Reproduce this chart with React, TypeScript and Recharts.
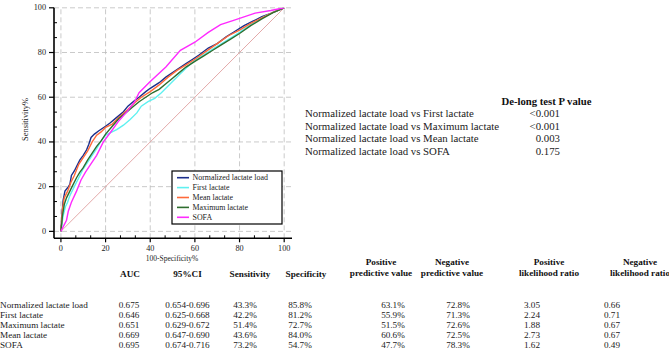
import React from 'react';
import { LineChart, Line, XAxis, YAxis, ReferenceLine } from 'recharts';

// ROC curves: [100-Specificity%, Sensitivity%]
const normalizedLoad: number[][] = [
  [0, 0], [0.5, 8], [1, 14], [1.8, 18], [3, 19.5], [4, 21], [4.7, 25], [6, 27], [7, 29], [8.5, 32],
  [10, 34], [11.5, 36.5], [12.5, 39], [13.5, 42], [15, 43.5], [17, 45], [20, 47], [22, 48.5], [25, 51],
  [28, 53.5], [30, 56], [33, 58.5], [35, 60], [38, 62.5], [40, 64], [44, 66.5], [47, 69], [50, 71],
  [53, 73], [56, 75], [59, 77], [62, 79], [66, 82], [70, 84], [74, 87], [78, 89.5], [82, 92], [86, 94],
  [90, 96], [94, 97.5], [97, 98.8], [100, 100],
];
const firstLactate: number[][] = [
  [0, 0], [1, 7], [2, 11], [3, 13], [4, 16], [5, 18], [6.5, 21], [8, 24], [10, 28], [12, 31], [14, 34],
  [16, 37], [18, 40.5], [20, 43], [22, 44], [25, 45.5], [28, 47.5], [31, 50], [34, 53], [36, 56],
  [39, 58], [42, 59.5], [45, 62], [48, 65], [50, 67], [53, 70], [56, 73], [60, 76.5], [64, 79],
  [68, 81.5], [72, 84], [76, 86.5], [80, 89], [85, 92.5], [90, 95.5], [95, 98], [100, 100],
];
const meanLactate: number[][] = [
  [0, 0], [0.7, 10], [1.5, 15], [3, 18], [4.5, 22], [6, 25], [8, 30], [10, 33], [12, 36], [14, 40],
  [16, 43], [18, 44.5], [20, 46.5], [23, 48], [26, 51], [30, 54.5], [33, 57.5], [36, 60], [40, 62.5],
  [44, 65.5], [48, 69], [52, 72], [56, 74.5], [60, 77], [65, 80.5], [70, 84], [75, 87.5], [80, 90],
  [85, 93], [90, 95.5], [95, 98], [100, 100],
];
const maximumLactate: number[][] = [
  [0, 0], [0.7, 7], [1.5, 12], [2.5, 15], [4, 18], [5.5, 21], [7, 24], [8.5, 26.5], [10, 28.5], [12, 32],
  [14, 35], [16, 38], [18, 40.5], [20, 43.5], [23, 47], [26, 50.5], [29, 53], [32, 55.5], [35, 58],
  [38, 60], [41, 62], [44, 63.5], [47, 66], [50, 68.5], [53, 71], [56, 73.5], [60, 76], [64, 78.5],
  [68, 81], [72, 83.5], [76, 86], [80, 88.5], [85, 92], [90, 95], [95, 97.8], [100, 100],
];
const sofa: number[][] = [
  [0, 0], [1, 2], [2.5, 5], [3.3, 9], [4.7, 13], [7, 18], [9, 23], [11, 26.5], [13, 29.5], [16, 34],
  [19, 40], [22, 44], [26, 49.5], [30, 54], [33, 58], [35, 62], [40, 67], [47, 73.5], [53.5, 81],
  [60, 84.6], [66, 89], [71.5, 92.5], [77, 94.3], [87, 97.6], [94, 98.8], [100, 100],
];

const seriesNames = ['Normalized lactate load', 'First lactate', 'Mean lactate', 'Maximum lactate', 'SOFA'];
const seriesColors = ['#1c2f8c', '#5ff0f0', '#ff6a3a', '#2f6e2f', '#ff2bff'];
const seriesData = [normalizedLoad, firstLactate, meanLactate, maximumLactate, sofa];

const majorTicks = [0, 20, 40, 60, 80, 100];
const minorTicks = [6.67, 13.33, 26.67, 33.33, 46.67, 53.33, 66.67, 73.33, 86.67, 93.33];
const allTicks = [...majorTicks, ...minorTicks].sort((a, b) => a - b);

// De-long comparisons
const comparisons = [
  'Normalized lactate load vs First lactate',
  'Normalized lactate load vs Maximum lactate',
  'Normalized lactate load vs Mean lactate',
  'Normalized lactate load vs SOFA',
];
const pValues = ['<0.001', '<0.001', '0.003', '0.175'];

// Bottom table
const rowLabels = ['Normalized lactate load', 'First lactate', 'Maximum lactate', 'Mean lactate', 'SOFA'];
const aucValues = ['0.675', '0.646', '0.651', '0.669', '0.695'];
const ciValues = ['0.654-0.696', '0.625-0.668', '0.629-0.672', '0.647-0.690', '0.674-0.716'];
const sensValues = ['43.3%', '42.2%', '51.4%', '43.6%', '73.2%'];
const specValues = ['85.8%', '81.2%', '72.7%', '84.0%', '54.7%'];
const ppvValues = ['63.1%', '55.9%', '51.5%', '60.6%', '47.7%'];
const npvValues = ['72.8%', '71.3%', '72.6%', '72.5%', '78.3%'];
const plrValues = ['3.05', '2.24', '1.88', '2.73', '1.62'];
const nlrValues = ['0.66', '0.71', '0.67', '0.67', '0.49'];

const FONT = '"Liberation Serif", "Times New Roman", serif';

const isMajor = (v: number) => Math.abs(v % 20) < 0.01;

const XTick = (props: any) => {
  const { x, y, payload } = props;
  const v = payload.value;
  if (isMajor(v)) {
    return (
      <g>
        <line x1={x} y1={y} x2={x} y2={y + 4} stroke="#000" strokeWidth={1.2} />
        <text x={x} y={y + 10} textAnchor="middle" dominantBaseline="central" fontSize={8.2} fontFamily={FONT} fill="#222">
          {v}
        </text>
      </g>
    );
  }
  return <line x1={x} y1={y} x2={x} y2={y - 3} stroke="#000" strokeWidth={1} />;
};

const YTick = (props: any) => {
  const { x, y, payload } = props;
  const v = payload.value;
  if (isMajor(v)) {
    return (
      <g>
        <line x1={x - 5} y1={y} x2={x} y2={y} stroke="#000" strokeWidth={1.2} />
        <text x={x - 8} y={y} textAnchor="end" dominantBaseline="central" fontSize={8.2} fontFamily={FONT} fill="#222">
          {v}
        </text>
      </g>
    );
  }
  return <line x1={x} y1={y} x2={x + 3} y2={y} stroke="#000" strokeWidth={1} />;
};

const tableCols = [
  { vals: aucValues, cx: 129 },
  { vals: ciValues, cx: 187.5 },
  { vals: sensValues, cx: 245 },
  { vals: specValues, cx: 300 },
  { vals: ppvValues, cx: 393 },
  { vals: npvValues, cx: 458 },
  { vals: plrValues, cx: 532 },
  { vals: nlrValues, cx: 612 },
];
const singleHeaders = [
  { t: 'AUC', cx: 130 },
  { t: '95%CI', cx: 187.5 },
  { t: 'Sensitivity', cx: 250 },
  { t: 'Specificity', cx: 306 },
];
const doubleHeaders = [
  { a: 'Positive', b: 'predictive value', cx: 381 },
  { a: 'Negative', b: 'predictive value', cx: 452 },
  { a: 'Positive', b: 'likelihood ratio', cx: 549 },
  { a: 'Negative', b: 'likelihood ratio', cx: 640 },
];

export default function App() {
  const rowY = [305, 315, 325, 335, 345];
  return (
    <div style={{ position: 'absolute', left: 0, top: 0, width: 669, height: 356, background: '#fff', overflow: 'hidden' }}>
      <LineChart width={669} height={356} margin={{ top: 7.8, right: 377, bottom: 97.7, left: 0 }}>
        <XAxis
          type="number"
          dataKey="x"
          domain={[-3.1, 103.5]}
          ticks={allTicks}
          interval={0}
          tick={<XTick />}
          tickLine={false}
          tickSize={0}
          tickMargin={0}
          height={20}
          axisLine={{ stroke: '#000', strokeWidth: 1.6 }}
          allowDataOverflow
        />
        <YAxis
          type="number"
          dataKey="y"
          domain={[-3.1, 100]}
          ticks={allTicks}
          interval={0}
          tick={<YTick />}
          tickLine={false}
          tickSize={0}
          tickMargin={0}
          width={54}
          axisLine={{ stroke: '#000', strokeWidth: 1.6 }}
          allowDataOverflow
        />
        {majorTicks.map((t) => (
          <ReferenceLine key={'gx' + t} x={t} stroke="#bdbdbd" strokeDasharray="5 3" strokeWidth={0.8} />
        ))}
        {majorTicks.map((t) => (
          <ReferenceLine key={'gy' + t} y={t} stroke="#bdbdbd" strokeDasharray="5 3" strokeWidth={0.8} />
        ))}
        <ReferenceLine
          segment={[{ x: 0, y: 0 }, { x: 100, y: 100 }]}
          stroke="#e3a9a9"
          strokeWidth={1}
        />
        {seriesData.map((d, i) => (
          <Line
            key={seriesNames[i]}
            data={d.map(([x, y]) => ({ x, y }))}
            dataKey="y"
            type="linear"
            stroke={seriesColors[i]}
            strokeWidth={1.4}
            dot={false}
            isAnimationActive={false}
          />
        ))}
      </LineChart>
      <svg width={669} height={356} style={{ position: 'absolute', left: 0, top: 0, pointerEvents: 'none' }} fontFamily={FONT}>
        {/* axis titles */}
        <text x={25} y={119.5} transform="rotate(-90 25 119.5)" textAnchor="middle" dominantBaseline="central" fontSize={8.4} fill="#222">
          Sensitivity%
        </text>
        <text x={172} y={258.5} textAnchor="middle" dominantBaseline="central" fontSize={7.5} fill="#222">
          100-Specificity%
        </text>
        {/* legend */}
        <rect x={172} y={171} width={110} height={53} fill="#fff" stroke="#000" strokeWidth={1.2} />
        {seriesNames.map((n, i) => (
          <g key={n}>
            <line x1={177} x2={189} y1={177.7 + i * 9.9} y2={177.7 + i * 9.9} stroke={seriesColors[i]} strokeWidth={1.6} />
            <text x={192.5} y={177.7 + i * 9.9} dominantBaseline="central" fontSize={7.9} fill="#222">
              {n}
            </text>
          </g>
        ))}
        {/* De-long table */}
        <text x={501.5} y={100.7} dominantBaseline="central" fontSize={10.7} fontWeight="bold" fill="#111">
          De-long test P value
        </text>
        {comparisons.map((c, i) => (
          <g key={c}>
            <text x={305} y={113 + i * 12.7} dominantBaseline="central" fontSize={10.8} fill="#222">
              {c}
            </text>
            <text x={560} y={113 + i * 12.7} textAnchor="end" dominantBaseline="central" fontSize={10.8} fill="#222">
              {pValues[i]}
            </text>
          </g>
        ))}
        {/* bottom table headers */}
        {singleHeaders.map((h) => (
          <text key={h.t} x={h.cx} y={274} textAnchor="middle" dominantBaseline="central" fontSize={9.2} fontWeight="bold" fill="#111">
            {h.t}
          </text>
        ))}
        {doubleHeaders.map((h, i) => (
          <g key={i}>
            <text x={h.cx} y={262} textAnchor="middle" dominantBaseline="central" fontSize={9.2} fontWeight="bold" fill="#111">
              {h.a}
            </text>
            <text x={h.cx} y={273} textAnchor="middle" dominantBaseline="central" fontSize={9.2} fontWeight="bold" fill="#111">
              {h.b}
            </text>
          </g>
        ))}
        {rowLabels.map((r, i) => (
          <text key={r} x={0} y={rowY[i]} dominantBaseline="central" fontSize={9.2} fill="#222">
            {r}
          </text>
        ))}
        {tableCols.map((col, ci) =>
          col.vals.map((v, i) => (
            <text key={ci + '-' + i} x={col.cx} y={rowY[i]} textAnchor="middle" dominantBaseline="central" fontSize={9.2} fill="#222">
              {v}
            </text>
          ))
        )}
      </svg>
    </div>
  );
}
